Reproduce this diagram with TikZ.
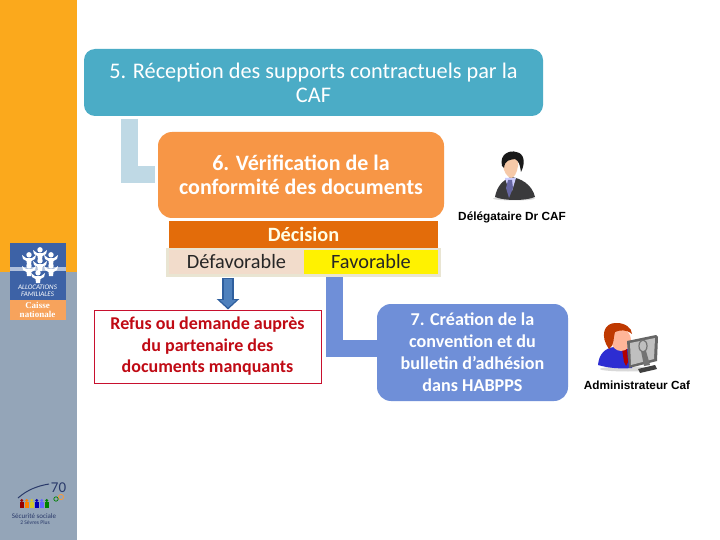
\documentclass[tikz,border=0pt]{standalone}
\usepackage{fontspec}
\setmainfont{Carlito}
\newfontfamily\arialf{Liberation Sans}
\newfontfamily\timesf{Liberation Serif}
\usetikzlibrary{arrows.meta}
\definecolor{sideorange}{HTML}{FBA91C}
\definecolor{sidegrey}{HTML}{94A5B8}
\definecolor{teal5}{HTML}{4BACC6}
\definecolor{orange6}{HTML}{F79646}
\definecolor{decis}{HTML}{E36C0A}
\definecolor{rowbg}{HTML}{E9E5D2}
\definecolor{defav}{HTML}{F2DCCB}
\definecolor{fav}{HTML}{FFF200}
\definecolor{paleL}{HTML}{BFD9E5}
\definecolor{blue7}{HTML}{6F8FD8}
\definecolor{redbox}{HTML}{C8102E}
\definecolor{redtxt}{HTML}{C00A14}
\definecolor{cafblue}{HTML}{3D62A6}
\definecolor{cafor}{HTML}{F7A35C}
\definecolor{suit}{HTML}{3A3A3C}
\definecolor{skin}{HTML}{F6C9A8}
\definecolor{arrowfill}{HTML}{4F81BD}
\definecolor{arrowline}{HTML}{2F5F9E}
\definecolor{ssnavy}{HTML}{2A3A6A}
\tikzset{
 cell/.style={anchor=north west,inner sep=0pt,outer sep=0pt,align=center},
 link/.style={line width=17pt,line cap=butt,line join=miter},
 rolelabel/.style={font=\arialf\bfseries\fontsize{11.8}{13}\selectfont,inner sep=0pt},
 kid/.style={fill=white,draw=none},
 cellfont/.style={text=black!85,font=\fontsize{20.3}{22}\selectfont},
}
\begin{document}
\begin{tikzpicture}[x=1pt,y=-1pt]
\useasboundingbox (0,0) rectangle (720,540);
% sidebar
\fill[white] (0,0) rectangle (720,540);
\fill[sideorange] (0,0) rectangle (77,272);
\fill[sidegrey] (0,272) rectangle (77,540);
% CAF logo
\fill[cafblue] (10,243) rectangle (66,300);
\fill[cafor] (10,300) rectangle (66,320);
\fill[white!60!cafblue] (10,267) rectangle (66,271);
\foreach \x/\y in {40/253,29/258,51/258,40/264,29/269,51/269,38/276}{
  \fill[kid] (\x,\y-3.2) circle (2.7);
  \fill[kid] (\x-7,\y-3) -- (\x-3,\y) -- (\x+3,\y) -- (\x+7,\y-3) -- (\x+6,\y+1) -- (\x+2.5,\y+3) -- (\x+2,\y+7) -- (\x-2,\y+7) -- (\x-2.5,\y+3) -- (\x-6,\y+1) -- cycle;
}
\node[inner sep=0pt,text=white,align=center,font=\itshape\fontsize{7}{7}\selectfont] (caf) at (37.5,290.5) {ALLOCATIONS\\FAMILIALES};
\node[inner sep=0pt,text=white,align=center,font=\timesf\bfseries\fontsize{9}{9.5}\selectfont] (cn) at (37.5,310) {Caisse\\nationale};
% Securite sociale logo
\draw[ssnavy,line width=1pt] (18,498) .. controls (27,490) and (37,486) .. (49,484);
\foreach \x/\c in {20/red!60!black,25/orange,30/yellow!80!black,35/blue!70!black,40/blue!60,45/green!50!black}{
  \fill[\c] (\x,502) rectangle (\x+3.5,508);
  \fill[\c] (\x+1.75,500.5) circle (1.6);
}
\draw[orange!80!white,line width=.7pt] (61,497) circle (2.6);
\draw[green!50!black,line width=.7pt] (56,499) circle (2.2);
\node[inner sep=0pt,text=ssnavy,font=\fontsize{7}{8}\selectfont] (ss) at (34,516) {Sécurité sociale};
\node[inner sep=0pt,text=ssnavy,font=\fontsize{5.6}{6}\selectfont] (ss2) at (35,523) {2 Sèvres Plus};
\node[inner sep=0pt,text=ssnavy,font=\fontsize{15}{15}\selectfont] (seventy) at (58.5,487.5) {70};
% main boxes
\node[cell,fill=teal5,rounded corners=11pt,minimum width=459pt,minimum height=67pt,text=white,font=\fontsize{22.3}{24}\selectfont] (box5) at (84,49) {5. Réception des supports contractuels par la\\CAF};
\node[cell,fill=orange6,rounded corners=14pt,minimum width=286pt,minimum height=86pt,text=white,font=\bfseries\fontsize{22}{24}\selectfont] (box6) at (158,132) {6. Vérification de la\\conformité des documents};
\draw[link,paleL] ([xshift=45.5pt,yshift=-3pt]box5.south west) |- ([xshift=-3pt]box6.west);
% decision
\node[cell,fill=decis,minimum width=269pt,minimum height=27pt,text=white!90!yellow,font=\bfseries\fontsize{20.3}{22}\selectfont] (dec) at (169,221) {Décision};
\node[cell,fill=rowbg,minimum width=275pt,minimum height=29pt] (row) at (166,248) {};
\node[cell,fill=defav,minimum width=135pt,minimum height=24pt,cellfont] (defavn) at (169,250) {Défavorable};
\node[cell,fill=fav,minimum width=134pt,minimum height=24pt,cellfont] (favn) at (304,250) {Favorable};
% refus
\node[draw=redbox,line width=1pt,minimum width=227pt,minimum height=73pt,inner sep=0pt,anchor=north west,text=redtxt,align=center,font=\bfseries\fontsize{18}{21.5}\selectfont] (refus) at (93.5,309.5) {Refus ou demande auprès\\du partenaire des\\documents manquants};
% arrow down
\draw[arrowline,line width=12pt,-{Triangle[width=22pt,length=10.5pt]}] ([xshift=-8.5pt,yshift=-4pt]defavn.south) -- ([xshift=-8.5pt]defavn.south |- refus.north);
\draw[arrowfill,line width=8pt,-{Triangle[width=16pt,length=7.5pt]},shorten >=2pt] ([xshift=-8.5pt,yshift=-5pt]defavn.south) -- ([xshift=-8.5pt]defavn.south |- refus.north);
% box 7 and blue L
\node[cell,fill=blue7,rounded corners=14pt,minimum width=191pt,minimum height=97pt,text=white,font=\bfseries\fontsize{18.1}{22}\selectfont] (box7) at (377,304) {7. Création de la\\convention et du\\bulletin d’adhésion\\dans HABPPS};
\draw[link,blue7] ([xshift=30.5pt,yshift=-3pt]favn.south west) |- ([yshift=4pt,xshift=2pt]box7.west);
% delegate
\fill[black!15] (514,198.5) ellipse (21 and 2);
\fill[suit] (495,197) .. controls (497,186) and (503,180) .. (511,177) .. controls (520,178) and (532,184) .. (535,197) .. controls (525,201) and (505,201) .. (495,197) -- cycle;
\fill[white!80!blue] (505,178) -- (516,178) -- (512,191) -- (509,191) -- cycle;
\fill[black!60!blue!60] (508,180) -- (512,180) -- (513,188) -- (509,198) -- (506,188) -- cycle;
\fill[skin] (511,155) .. controls (517,155) and (519,160) .. (518,166) .. controls (517,173) and (514,178) .. (511,178) .. controls (507,177) and (503,171) .. (503,164) .. controls (503,158) and (506,155) .. (511,155) -- cycle;
\fill[black!90] (502,166) .. controls (499,153) and (511,150) .. (516,152) .. controls (524,153) and (526,162) .. (521,172) .. controls (520,165) and (519,161) .. (515,159) .. controls (509,160) and (505,160) .. (504,168) -- cycle;
\node[rolelabel] (deleg) at (512,217) {Délégataire Dr CAF};
% admin
\fill[black!15] (628,369) ellipse (28 and 2.5);
\fill[blue!65!gray] (598,365) .. controls (599,353) and (606,348) .. (614,347) -- (632,349) -- (632,368) .. controls (620,369) and (608,368) .. (598,365) -- cycle;
\fill[red!70!black] (622,349) -- (627,349) -- (628,362) -- (626,366) -- (624,362) -- cycle;
\fill[orange!55!red!40!white] (621,340) ellipse (10 and 11);
\fill[orange!60!red!75!black] (609,349) .. controls (600,337) and (603,322) .. (617,323) .. controls (625,323) and (632,328) .. (632,334) .. controls (626,329) and (620,330) .. (615,332) .. controls (613,338) and (615,344) .. (609,349) -- cycle;
\fill[black!60] (627,341) -- (656,335) -- (658,337) -- (657,361) -- (629,368) -- cycle;
\fill[black!25] (630,343) -- (655,338) -- (654,359) -- (631,365) -- cycle;
\draw[black!55,line width=1.2pt] (643,346) ellipse (4 and 6);
\fill[black!55] (641,351) -- (646,351) -- (650,365) -- (644,366) -- cycle;
\fill[black!75] (638,369) -- (655,365) -- (657,369) -- (640,373) -- cycle;
\node[rolelabel] (admin) at (637,385) {Administrateur Caf};
\end{tikzpicture}
\end{document}
